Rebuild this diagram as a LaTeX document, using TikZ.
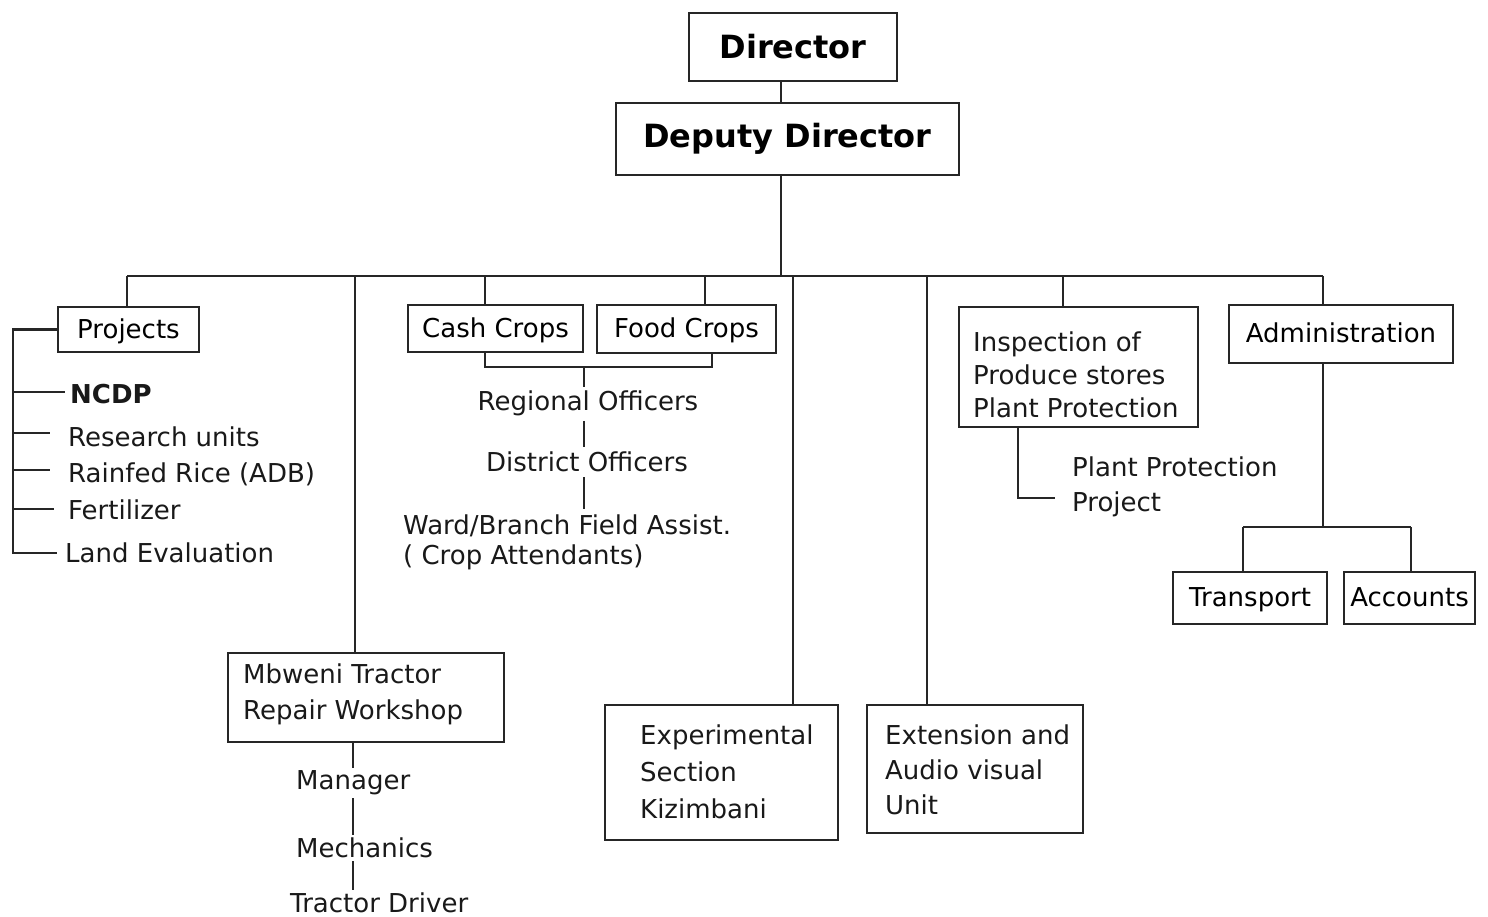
\documentclass[tikz,border=0pt]{standalone}
\usepackage{fontspec}
\setmainfont{DejaVu Sans}
\begin{document}
\begin{tikzpicture}[x=1pt,y=-1pt,
  ln/.style={line width=2.2pt, draw=black!85},
  box/.style={draw=black!85, line width=2.2pt, rectangle, inner sep=0pt, text height=20pt, text depth=3pt, font=\fontsize{26}{35}\selectfont},
  bigbox/.style={draw=black!85, line width=2.2pt, rectangle, inner sep=0pt, font=\fontsize{32}{38}\selectfont\bfseries},
  lbl/.style={inner xsep=0pt, inner ysep=3pt, font=\fontsize{26}{35}\selectfont, align=left, anchor=west, text=black!90},
  ctr/.style={inner xsep=0pt, inner ysep=5pt, font=\fontsize{26}{35}\selectfont, text=black!90}]
\useasboundingbox (0,0) rectangle (1488,917);
\fill[white] (0,0) rectangle (1488,917);

% top
\node[bigbox, minimum width=208, minimum height=68] (dir) at (793,47) {Director};
\node[bigbox, minimum width=343, minimum height=72] (dep) at (787.5,139) {Deputy Director};

% bus markers
\coordinate (busL) at (127,276);
\coordinate (busR) at (1323,276);
\coordinate (xdir) at (781,0);
\coordinate (xmb) at (355,0);
\coordinate (xcash) at (485,0);
\coordinate (xfood) at (705,0);
\coordinate (xexp) at (793,0);
\coordinate (xext) at (927,0);
\coordinate (xins) at (1063,0);
\coordinate (xadm) at (1323,0);

% level-2 boxes
\node[box, minimum width=141, minimum height=45] (proj) at (128.5,329.5) {Projects};
\node[box, minimum width=175, minimum height=47] (cash) at (495.5,328.5) {Cash Crops};
\node[box, minimum width=179, minimum height=48] (food) at (686.5,329) {Food Crops};
\node[box, minimum width=239, minimum height=120] (insp) at (1078.5,367) {};
\node[lbl, font=\fontsize{26}{33}\selectfont] (insptxt) at (973,375) {Inspection of\\Produce stores\\Plant Protection};
\node[box, minimum width=224, minimum height=58] (adm) at (1341,334) {Administration};

\node[box, minimum width=276, minimum height=89] (mb) at (366,697.5) {};
\node[lbl, font=\fontsize{26}{36}\selectfont] (mbtxt) at (243,694) {Mbweni Tractor\\Repair Workshop};
\node[box, minimum width=233, minimum height=135] (exp) at (721.5,772.5) {};
\node[lbl, font=\fontsize{26}{37}\selectfont] (exptxt) at (640,772) {Experimental\\Section\\Kizimbani};
\node[box, minimum width=216, minimum height=128] (ext) at (975,769) {};
\node[lbl, font=\fontsize{26}{35}\selectfont] (exttxt) at (885,770) {Extension and\\Audio visual\\Unit};

\node[box, minimum width=154, minimum height=52] (tr) at (1250,598) {Transport};
\node[box, minimum width=131, minimum height=52] (acc) at (1409.5,598) {Accounts};

% connectors top
\draw[ln] (dir.south -| xdir) -- (dep.north -| xdir);
\draw[ln] (dep.south -| xdir) -- (busL -| xdir);
\draw[ln] (busL) -- (busR);
\draw[ln] (busL) -- (proj.north -| busL);
\draw[ln] (busL -| xmb) -- (mb.north -| xmb);
\draw[ln] (busL -| xcash) -- (cash.north -| xcash);
\draw[ln] (busL -| xfood) -- (food.north -| xfood);
\draw[ln] (busL -| xexp) -- (exp.north -| xexp);
\draw[ln] (busL -| xext) -- (ext.north -| xext);
\draw[ln] (busL -| xins) -- (insp.north -| xins);
\draw[ln] (busR) -- (adm.north -| xadm);

% Projects list
\node[lbl, font=\fontsize{26}{35}\selectfont\bfseries] (ncdp) at (70,394) {NCDP};
\node[lbl] (res) at (68,437) {Research units};
\node[lbl] (rain) at (68,474) {Rainfed Rice (ADB)};
\node[lbl] (fert) at (68,510) {Fertilizer};
\node[lbl] (land) at (65,553) {Land Evaluation};
\coordinate (bl) at (13,553);
\coordinate (yn) at (0,392);
\coordinate (yr) at (0,433);
\coordinate (yri) at (0,470);
\coordinate (yf) at (0,509);
\coordinate (en) at (65,0);
\coordinate (er) at (50,0);
\coordinate (ef) at (54,0);
\coordinate (el) at (57,0);
\draw[ln] (proj.west) -| (bl) -- (bl -| el);
\draw[ln] (yn -| bl) -- (yn -| en);
\draw[ln] (yr -| bl) -- (yr -| er);
\draw[ln] (yri -| bl) -- (yri -| er);
\draw[ln] (yf -| bl) -- (yf -| ef);

% Crops chain
\coordinate (xcrop) at (584,0);
\coordinate (cb) at (712,367);
\node[ctr] (reg) at (588,403) {Regional Officers};
\node[ctr] (dist) at (587,462) {District Officers};
\node[lbl, font=\fontsize{26}{30}\selectfont] (ward) at (403,542) {Ward/Branch Field Assist.\\( Crop Attendants)};
\draw[ln] (cash.south -| xcash) |- (cb) -- (food.south -| cb);
\draw[ln] (cb -| xcrop) -- ([yshift=-2pt]reg.north -| xcrop);
\draw[ln] (reg.south -| xcrop) -- (dist.north -| xcrop);
\draw[ln] (dist.south -| xcrop) -- ([yshift=2pt]ward.north -| xcrop);

% Mbweni chain
\coordinate (xmc) at (353,0);
\node[lbl] (man) at (296,783) {Manager};
\node[lbl] (mech) at (296,848) {Mechanics};
\node[lbl] (drv) at (290,903) {Tractor Driver};
\draw[ln] (mb.south -| xmc) -- (man.north -| xmc);
\draw[ln] (man.south -| xmc) -- (mech.north -| xmc);
\draw[ln] (mech.south -| xmc) -- (drv.north -| xmc);

% Inspection sub
\node[lbl, font=\fontsize{26}{35}\selectfont] (pp) at (1072,487) {Plant Protection\\Project};
\coordinate (xpp) at (1018,0);
\coordinate (ppend) at (1055,498);
\draw[ln] (insp.south -| xpp) |- (ppend);

% Administration sub
\coordinate (ab) at (1323,527);
\coordinate (xtr) at (1243,0);
\coordinate (xacc) at (1411,0);
\draw[ln] (adm.south -| xadm) -- (ab);
\draw[ln] (ab -| xtr) -- (ab -| xacc);
\draw[ln] (ab -| xtr) -- (tr.north -| xtr);
\draw[ln] (ab -| xacc) -- (acc.north -| xacc);
\end{tikzpicture}
\end{document}
